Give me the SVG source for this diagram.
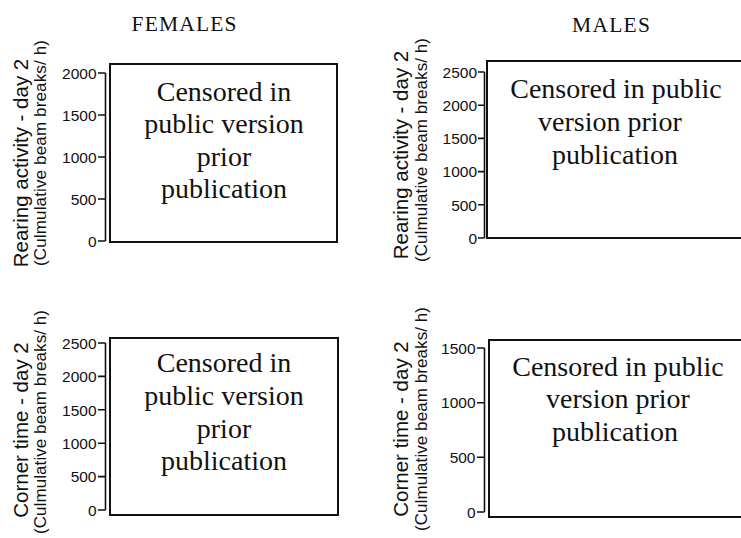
<svg xmlns="http://www.w3.org/2000/svg" width="741" height="538" viewBox="0 0 741 538">
  <style>
    .title { font-family: "Liberation Serif", "Times New Roman", serif; font-size: 21.5px; fill: #111; text-anchor: middle; }
    .note { font-family: "Liberation Serif", "Times New Roman", serif; font-size: 28px; fill: #111; text-anchor: middle; }
    .ylab { font-family: "Liberation Sans", Arial, sans-serif; font-size: 20.5px; fill: #111; text-anchor: middle; }
    .ysub { font-family: "Liberation Sans", Arial, sans-serif; font-size: 17px; fill: #111; text-anchor: middle; }
    .tick { font-family: "Liberation Sans", Arial, sans-serif; font-size: 15.5px; fill: #111; text-anchor: end; }
    .frame { fill: #fff; stroke: #111; stroke-width: 2; }
    .axis { fill: none; stroke: #111; stroke-width: 1.6; }
  </style>

  <rect width="741" height="538" fill="#fff"/>

  <!-- column headings -->
  <g id="headings">
    <text class="title" x="184" y="31" textLength="105">FEMALES</text>
    <text class="title" x="611" y="32" textLength="78">MALES</text>
  </g>

  <!-- females: rearing activity -->
  <g id="panel-females-rearing">
    <text class="ylab" transform="translate(28,163) rotate(-90)">Rearing activity - day 2</text>
    <text class="ysub" transform="translate(46,153) rotate(-90)" textLength="226">(Culmulative beam breaks/ h)</text>
    <path class="axis" d="M105.5,73 V241 M98,73 H105.5 M98,115 H105.5 M98,157 H105.5 M98,199 H105.5 M98,241 H105.5"/>
    <text class="tick" x="96.5" y="78.5">2000</text>
    <text class="tick" x="96.5" y="120.5">1500</text>
    <text class="tick" x="96.5" y="162.5">1000</text>
    <text class="tick" x="96.5" y="204.5">500</text>
    <text class="tick" x="96.5" y="246.5">0</text>
    <rect class="frame" x="110" y="64" width="227" height="178"/>
    <text class="note" x="224" y="101">Censored in</text>
    <text class="note" x="224" y="133">public version</text>
    <text class="note" x="224" y="166">prior</text>
    <text class="note" x="224" y="198">publication</text>
  </g>

  <!-- males: rearing activity -->
  <g id="panel-males-rearing">
    <text class="ylab" transform="translate(408,155) rotate(-90)">Rearing activity - day 2</text>
    <text class="ysub" transform="translate(427,150) rotate(-90)" textLength="224">(Culmulative beam breaks/ h)</text>
    <path class="axis" d="M484.5,72 V238 M478,72 H484.5 M478,105.2 H484.5 M478,138.4 H484.5 M478,171.6 H484.5 M478,204.8 H484.5 M478,238 H484.5"/>
    <text class="tick" x="477" y="77.5">2500</text>
    <text class="tick" x="477" y="110.5">2000</text>
    <text class="tick" x="477" y="144">1500</text>
    <text class="tick" x="477" y="177">1000</text>
    <text class="tick" x="477" y="210.5">500</text>
    <text class="tick" x="477" y="243.5">0</text>
    <rect class="frame" x="487" y="61" width="270" height="177"/>
    <text class="note" x="616" y="98">Censored in public</text>
    <text class="note" x="610" y="131">version prior</text>
    <text class="note" x="615" y="164">publication</text>
  </g>

  <!-- females: corner time -->
  <g id="panel-females-corner">
    <text class="ylab" transform="translate(28,430) rotate(-90)">Corner time - day 2</text>
    <text class="ysub" transform="translate(46,422) rotate(-90)" textLength="224">(Culmulative beam breaks/ h)</text>
    <path class="axis" d="M105.5,343 V510 M98,343 H105.5 M98,376.4 H105.5 M98,409.8 H105.5 M98,443.2 H105.5 M98,476.6 H105.5 M98,510 H105.5"/>
    <text class="tick" x="96.5" y="348.5">2500</text>
    <text class="tick" x="96.5" y="382">2000</text>
    <text class="tick" x="96.5" y="415.5">1500</text>
    <text class="tick" x="96.5" y="448.5">1000</text>
    <text class="tick" x="96.5" y="482">500</text>
    <text class="tick" x="96.5" y="515.5">0</text>
    <rect class="frame" x="110" y="338" width="228" height="177"/>
    <text class="note" x="224" y="372">Censored in</text>
    <text class="note" x="224" y="405">public version</text>
    <text class="note" x="224" y="438">prior</text>
    <text class="note" x="224" y="470">publication</text>
  </g>

  <!-- males: corner time -->
  <g id="panel-males-corner">
    <text class="ylab" transform="translate(408,429) rotate(-90)">Corner time - day 2</text>
    <text class="ysub" transform="translate(427,419) rotate(-90)" textLength="224">(Culmulative beam breaks/ h)</text>
    <path class="axis" d="M484.5,348 V512 M477,348 H484.5 M477,402.7 H484.5 M477,457.3 H484.5 M477,512 H484.5"/>
    <text class="tick" x="475.5" y="353.5">1500</text>
    <text class="tick" x="475.5" y="408">1000</text>
    <text class="tick" x="475.5" y="462.5">500</text>
    <text class="tick" x="475.5" y="517.5">0</text>
    <rect class="frame" x="489" y="340" width="260" height="177"/>
    <text class="note" x="618" y="376">Censored in public</text>
    <text class="note" x="618" y="408">version prior</text>
    <text class="note" x="615" y="441">publication</text>
  </g>
</svg>
